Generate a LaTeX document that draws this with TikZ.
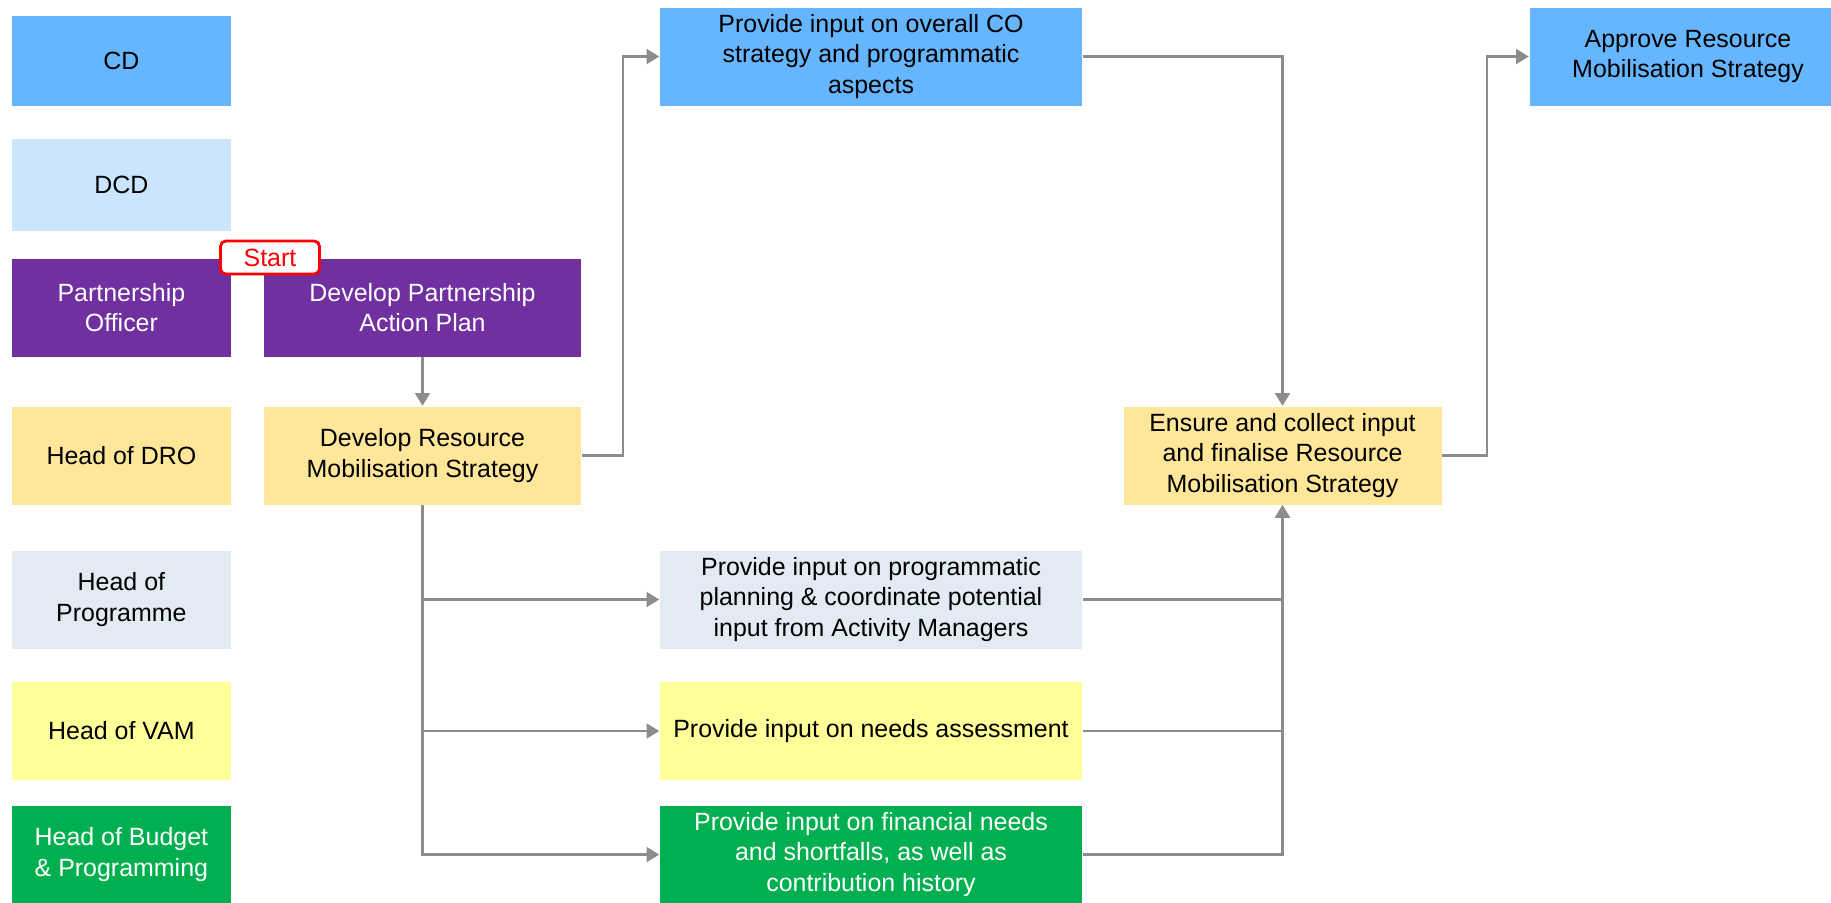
\documentclass[tikz,border=0pt]{standalone}
\usepackage{fontspec}
\setmainfont{Liberation Sans}
\usetikzlibrary{arrows.meta}
\definecolor{cdblue}{HTML}{66B5FF}
\definecolor{dcdblue}{HTML}{CCE5FF}
\definecolor{popurple}{HTML}{7030A0}
\definecolor{droyellow}{HTML}{FFE699}
\definecolor{progray}{HTML}{E2EAF3}
\definecolor{vamyellow}{HTML}{FFFF99}
\definecolor{budgreen}{HTML}{00B050}
\definecolor{linegray}{HTML}{8C8C8C}
\definecolor{startred}{HTML}{FF0000}

\begin{document}
\begin{tikzpicture}[
  font=\fontsize{7.1}{8.7}\selectfont,
  box/.style={minimum width=3.17cm, minimum height=.98cm, inner sep=1pt, align=center},
  lane/.style={box, minimum width=2.19cm},
  wide/.style={box, minimum width=4.22cm},
  arr/.style={linegray, line width=.6pt, -{Triangle[length=3.6pt,width=4.2pt]}},
  startbox/.style={draw=startred, fill=white, text=startred, rounded corners=1.5pt, thick,
    minimum width=.99cm, minimum height=.33cm, inner sep=0pt},
  ]
\useasboundingbox (0,0) rectangle (18.31,-9.02);
\clip (0,0) rectangle (18.31,-9.02);

\path (1.214,-0.61) node[lane, fill=cdblue, minimum height=.9cm](cd){CD};
\path (1.214,-1.85) node[lane, fill=dcdblue, minimum height=.92cm](dcd){DCD};
\path (1.214,-3.075) node[lane, fill=popurple, text=white](po){Partnership\\Officer};
\path (1.214,-4.555) node[lane, fill=droyellow](dro){Head of DRO};
\path (1.214,-5.995) node[lane, fill=progray](hop){Head of\\Programme};
\path (1.214,-7.31) node[lane, fill=vamyellow](vam){Head of VAM};
\path (1.214,-8.545) node[lane, fill=budgreen, text=white](bud){Head of Budget\\\& Programming};

\path (4.225,-3.075) node[box, fill=popurple, text=white](dpap){Develop Partnership\\Action Plan};
\path (4.225,-4.555) node[box, fill=droyellow](drms){Develop Resource\\Mobilisation Strategy};
\path (8.71,-0.565) node[wide, fill=cdblue](co){Provide input on overall CO\\strategy and programmatic\\aspects};
\path (8.71,-5.995) node[wide, fill=progray](prog){Provide input on programmatic\\planning \& coordinate potential\\input from Activity Managers};
\path (8.71,-7.31) node[wide, fill=vamyellow](needs){Provide input on needs assessment};
\path (8.71,-8.545) node[wide, fill=budgreen, text=white](fin){Provide input on financial needs\\and shortfalls, as well as\\contribution history};
\path (12.825,-4.555) node[box, fill=droyellow, minimum width=3.18cm](ens){Ensure and collect input\\and finalise Resource\\Mobilisation Strategy};
\path (16.88,-0.565) node[box, fill=cdblue](app){Approve Resource\\Mobilisation Strategy};

\path (2.70,-2.575) node[startbox](start){Start};

\draw[arr] (dpap) -- (drms);
\draw[arr] (drms.east) -- ++(.41,0) |- (co);
\draw[arr] (co) -| (ens);
\draw[arr] (ens.east) -- ++(.45,0) |- (app);
\draw[arr] (drms) |- (prog);
\draw[arr] (drms) |- (needs);
\draw[arr] (drms) |- (fin);
\draw[arr] (prog) -| (ens);
\draw[arr] (needs) -| (ens);
\draw[arr] (fin) -| (ens);

\end{tikzpicture}
\end{document}
